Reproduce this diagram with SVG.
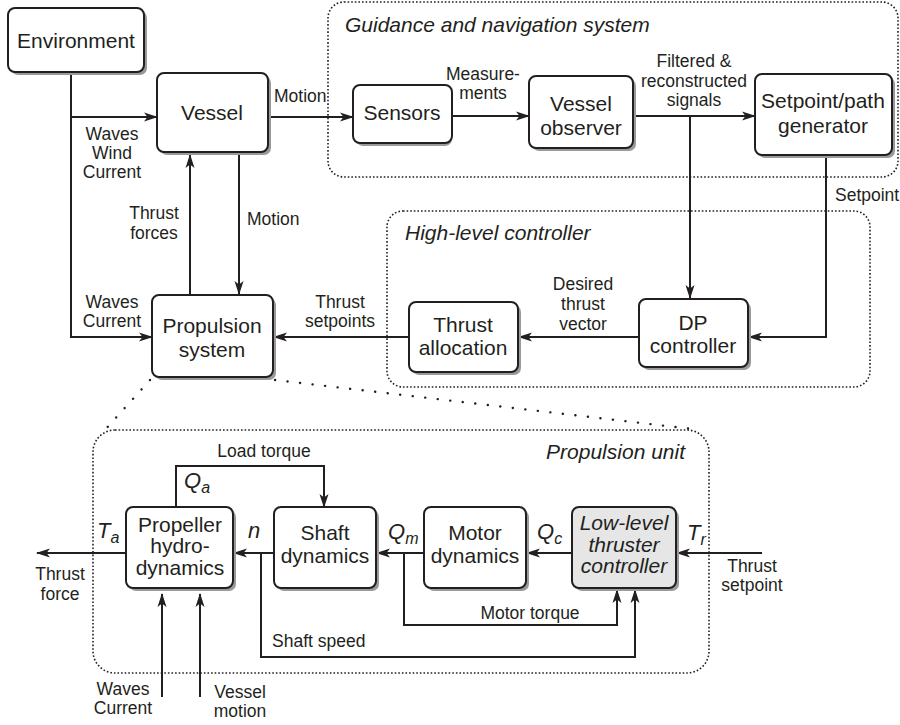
<svg xmlns="http://www.w3.org/2000/svg" width="900" height="725" viewBox="0 0 900 725">
<style>
text{font-family:"Liberation Sans",Arial,sans-serif;fill:#231f20}
.n{font-size:21px;text-anchor:middle}
.t{font-size:21px;font-style:italic}
.l{font-size:17.5px;text-anchor:middle}
.ls{font-size:17.5px}
.s{font-size:22px;font-style:italic}
.sub{font-size:16px}
.box{fill:#fff;stroke:#231f20;stroke-width:2}
.gbox{fill:#e6e6e6;stroke:#231f20;stroke-width:2}
.sh{fill:#9a9a9a}
.grp{fill:none;stroke:#231f20;stroke-width:1.6;stroke-dasharray:1.6 2}
.zoom{fill:none;stroke:#231f20;stroke-width:2.4;stroke-dasharray:0.1 12.5;stroke-linecap:round}
.c{fill:none;stroke:#231f20;stroke-width:2;marker-end:url(#ah)}
.cn{fill:none;stroke:#231f20;stroke-width:2}
</style>
<defs>
<marker id="ah" markerUnits="userSpaceOnUse" markerWidth="14" markerHeight="10" viewBox="0 0 14 10" refX="13" refY="5" orient="auto">
<path d="M0,0.5 L14,5 L0,9.5 L3.5,5 z" fill="#231f20"/>
</marker>
</defs>

<g id="groups">
<rect class="grp" x="328" y="2" width="570" height="175" rx="16"/>
<text class="t" x="345" y="32">Guidance and navigation system</text>
<rect class="grp" x="387" y="211" width="483" height="176" rx="16"/>
<text class="t" x="405" y="240">High-level controller</text>
<rect class="grp" x="93" y="430" width="616" height="243" rx="22"/>
<text class="t" x="685" y="459" text-anchor="end">Propulsion unit</text>
<path class="zoom" d="M150,380 L104,431"/>
<path class="zoom" d="M275,380 L692,429"/>
</g>

<g id="connectors">
<path class="c" d="M71,117 H157"/>
<path class="c" d="M71,72 V337 H152"/>
<path class="c" d="M268,117 H353"/>
<path class="c" d="M452,116 H529"/>
<path class="c" d="M633,116 H755"/>
<path class="c" d="M690,116 V298"/>
<path class="c" d="M826,155 V337 H749"/>
<path class="c" d="M639,337 H519"/>
<path class="c" d="M409,337 H274"/>
<path class="c" d="M190,294 V155"/>
<path class="c" d="M239,155 V294"/>
<path class="c" d="M762,553 H677"/>
<path class="c" d="M572,553 H527"/>
<path class="c" d="M424,553 H377"/>
<path class="c" d="M274,553 H234"/>
<path class="c" d="M126,553 H37"/>
<path class="c" d="M176,507 V466 H324 V507"/>
<path class="c" d="M404,553 V625 H617 V590"/>
<path class="c" d="M261,553 V657 H635 V590"/>
<path class="c" d="M162,697 V594"/>
<path class="c" d="M200,697 V594"/>
</g>

<g id="labels">
<text class="l"><tspan x="112" y="140">Waves</tspan><tspan x="112" y="159">Wind</tspan><tspan x="112" y="178">Current</tspan></text>
<text class="ls" x="274" y="102">Motion</text>
<text class="l"><tspan x="483" y="80">Measure-</tspan><tspan x="483" y="99">ments</tspan></text>
<text class="l"><tspan x="694" y="67">Filtered &amp;</tspan><tspan x="694" y="87">reconstructed</tspan><tspan x="694" y="106">signals</tspan></text>
<text class="ls" x="835" y="201">Setpoint</text>
<text class="l"><tspan x="154" y="219">Thrust</tspan><tspan x="154" y="239">forces</tspan></text>
<text class="ls" x="247" y="225">Motion</text>
<text class="l"><tspan x="112" y="308">Waves</tspan><tspan x="112" y="327">Current</tspan></text>
<text class="l"><tspan x="340" y="308">Thrust</tspan><tspan x="340" y="327">setpoints</tspan></text>
<text class="l"><tspan x="583" y="290">Desired</tspan><tspan x="583" y="310">thrust</tspan><tspan x="583" y="330">vector</tspan></text>
<text class="l" x="264" y="457">Load torque</text>
<text class="s" x="184" y="488">Q<tspan class="sub" dy="5">a</tspan></text>
<text class="s" x="97" y="538">T<tspan class="sub" dy="5">a</tspan></text>
<text class="s" x="248" y="538">n</text>
<text class="s" x="388" y="539">Q<tspan class="sub" dy="5">m</tspan></text>
<text class="s" x="537" y="539">Q<tspan class="sub" dy="5">c</tspan></text>
<text class="s" x="687" y="540">T<tspan class="sub" dy="5">r</tspan></text>
<text class="l"><tspan x="752" y="572">Thrust</tspan><tspan x="752" y="591">setpoint</tspan></text>
<text class="l"><tspan x="60" y="580">Thrust</tspan><tspan x="60" y="600">force</tspan></text>
<text class="l" x="530" y="619">Motor torque</text>
<text class="ls" x="272" y="647">Shaft speed</text>
<text class="l"><tspan x="123" y="695">Waves</tspan><tspan x="123" y="714">Current</tspan></text>
<text class="l"><tspan x="240" y="698">Vessel</tspan><tspan x="240" y="717">motion</tspan></text>
</g>

<g id="environment">
<rect class="sh" x="11" y="11" width="136" height="64" rx="7"/>
<rect class="box" x="8" y="8" width="136" height="64" rx="7"/>
<text class="n" x="76" y="48">Environment</text>
</g>
<g id="vessel">
<rect class="sh" x="160" y="76" width="111" height="79" rx="7"/>
<rect class="box" x="157" y="73" width="111" height="79" rx="7"/>
<text class="n" x="212" y="120">Vessel</text>
</g>
<g id="sensors">
<rect class="sh" x="356" y="88" width="96" height="58" rx="7"/>
<rect class="box" x="353" y="85" width="99" height="58" rx="7"/>
<text class="n" x="402" y="120">Sensors</text>
</g>
<g id="vessel-observer">
<rect class="sh" x="532" y="79" width="104" height="72" rx="7"/>
<rect class="box" x="529" y="76" width="104" height="72" rx="7"/>
<text class="n"><tspan x="581" y="111">Vessel</tspan><tspan x="581" y="135">observer</tspan></text>
</g>
<g id="setpoint-generator">
<rect class="sh" x="758" y="77" width="137" height="81" rx="7"/>
<rect class="box" x="755" y="74" width="137" height="81" rx="7"/>
<text class="n"><tspan x="823" y="108">Setpoint/path</tspan><tspan x="823" y="133">generator</tspan></text>
</g>
<g id="dp-controller">
<rect class="sh" x="642" y="302" width="109" height="68" rx="7"/>
<rect class="box" x="639" y="299" width="109" height="68" rx="7"/>
<text class="n"><tspan x="693" y="330">DP</tspan><tspan x="693" y="353">controller</tspan></text>
</g>
<g id="thrust-allocation">
<rect class="sh" x="412" y="305" width="109" height="70" rx="7"/>
<rect class="box" x="409" y="302" width="109" height="70" rx="7"/>
<text class="n"><tspan x="463" y="332">Thrust</tspan><tspan x="463" y="355">allocation</tspan></text>
</g>
<g id="propulsion-system">
<rect class="sh" x="155" y="298" width="121" height="82" rx="7"/>
<rect class="box" x="152" y="295" width="121" height="82" rx="7"/>
<text class="n"><tspan x="212" y="333">Propulsion</tspan><tspan x="212" y="357">system</tspan></text>
</g>
<g id="propeller-hydrodynamics">
<rect class="sh" x="129" y="510" width="107" height="81" rx="7"/>
<rect class="box" x="126" y="507" width="107" height="81" rx="7"/>
<text class="n"><tspan x="180" y="532">Propeller</tspan><tspan x="180" y="553">hydro-</tspan><tspan x="180" y="575">dynamics</tspan></text>
</g>
<g id="shaft-dynamics">
<rect class="sh" x="277" y="510" width="102" height="81" rx="7"/>
<rect class="box" x="274" y="507" width="102" height="81" rx="7"/>
<text class="n"><tspan x="325" y="540">Shaft</tspan><tspan x="325" y="563">dynamics</tspan></text>
</g>
<g id="motor-dynamics">
<rect class="sh" x="427" y="510" width="102" height="81" rx="7"/>
<rect class="box" x="424" y="507" width="102" height="81" rx="7"/>
<text class="n"><tspan x="475" y="540">Motor</tspan><tspan x="475" y="563">dynamics</tspan></text>
</g>
<g id="low-level-thruster-controller">
<rect class="sh" x="575" y="510" width="104" height="81" rx="7"/>
<rect class="gbox" x="572" y="507" width="104" height="81" rx="7"/>
<text class="n" font-style="italic"><tspan x="624" y="530">Low-level</tspan><tspan x="624" y="552">thruster</tspan><tspan x="624" y="573">controller</tspan></text>
</g>
</svg>
